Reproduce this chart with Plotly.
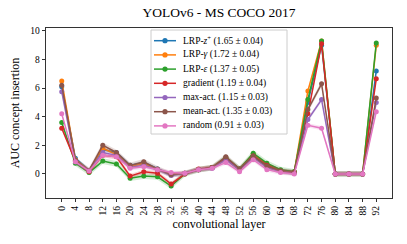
import plotly.graph_objects as go

layers = [0, 4, 8, 12, 16, 20, 24, 28, 32, 36, 40, 44, 48, 52, 56, 60, 64, 68, 72, 76, 80, 84, 88, 92]

lrp_zplus = [6.1, 1.1, 0.25, 1.7, 1.5, 0.6, 0.8, 0.35, -0.05, 0.05, 0.3, 0.45, 1.15, 0.35, 1.25, 0.6, 0.25, 0.15, 5.0, 9.0, 0, 0, 0, 7.2]
lrp_gamma = [6.5, 1.0, 0.25, 1.8, 1.35, 0.5, 0.75, 0.3, 0.0, 0.05, 0.3, 0.45, 1.15, 0.35, 1.4, 0.65, 0.25, 0.15, 5.8, 9.3, 0, 0, 0, 9.0]
lrp_eps = [3.6, 0.75, 0.1, 0.9, 0.7, -0.3, -0.15, -0.2, -0.85, 0.0, 0.3, 0.45, 1.1, 0.35, 1.45, 0.75, 0.3, 0.15, 5.2, 9.3, 0, 0, 0, 9.15]
gradient = [3.2, 0.9, 0.15, 1.3, 1.2, -0.15, 0.15, 0.05, -0.7, 0.0, 0.35, 0.45, 1.05, 0.3, 1.25, 0.6, 0.2, 0.1, 4.2, 9.1, 0, 0, 0, 6.65]
max_act = [5.75, 0.85, 0.25, 1.5, 1.3, 0.45, 0.6, 0.3, -0.1, 0.05, 0.3, 0.4, 1.0, 0.3, 1.15, 0.45, 0.15, 0.05, 3.8, 5.2, 0, 0, 0, 5.0]
mean_act = [6.2, 0.95, 0.25, 2.0, 1.5, 0.6, 0.85, 0.35, -0.05, 0.05, 0.3, 0.45, 1.2, 0.35, 1.25, 0.55, 0.2, 0.1, 4.5, 6.3, 0, 0, 0, 5.3]
random_ = [4.2, 0.85, 0.2, 1.3, 1.2, 0.4, 0.5, 0.3, 0.1, 0.05, 0.3, 0.4, 0.8, 0.15, 1.0, 0.3, 0.1, 0.0, 3.4, 3.2, 0, 0, 0, 4.35]

# half-width of the shaded spread band for each series (estimated)
spreads = [0.12, 0.12, 0.2, 0.15, 0.15, 0.2, 0.15]

labels = [
    "LRP-<i>z</i><sup>+</sup> (1.65 ± 0.04)",
    "LRP-<i>γ</i> (1.72 ± 0.04)",
    "LRP-<i>ε</i> (1.37 ± 0.05)",
    "gradient (1.19 ± 0.04)",
    "max-act. (1.15 ± 0.03)",
    "mean-act. (1.35 ± 0.03)",
    "random (0.91 ± 0.03)",
]
colors = ["#1f77b4", "#ff7f0e", "#2ca02c", "#d62728", "#9467bd", "#8c564b", "#e377c2"]
series = [lrp_zplus, lrp_gamma, lrp_eps, gradient, max_act, mean_act, random_]

def rgba(h, a):
    h = h.lstrip("#")
    return "rgba(%d,%d,%d,%s)" % (int(h[0:2], 16), int(h[2:4], 16), int(h[4:6], 16), a)

FONT = "Liberation Serif"
W, H = 407, 244
ML, MR, MT, MB = 46, 15, 28, 46
PW, PH = W - ML - MR, H - MT - MB

def px(xp):   # window pixel -> paper x
    return (xp - ML) / PW

def py(yp):   # window pixel -> paper y
    return (H - MB - yp) / PH

fig = go.Figure()
for vals, lab, col, s in zip(series, labels, colors, spreads):
    up = [v + s for v in vals]
    lo = [v - s for v in vals]
    fig.add_trace(go.Scatter(
        x=layers + layers[::-1], y=up + lo[::-1], fill="toself",
        fillcolor=rgba(col, 0.2), line=dict(width=0), mode="lines",
        showlegend=False, hoverinfo="skip"))
    fig.add_trace(go.Scatter(
        x=layers, y=vals, name=lab, mode="lines+markers", showlegend=False,
        line=dict(color=col, width=1.5), marker=dict(color=col, size=5)))

# legend box (matplotlib style, compact rows)
shapes = [dict(type="rect", xref="paper", yref="paper", layer="above",
               x0=px(151), x1=px(287), y0=py(134), y1=py(30),
               fillcolor="rgba(255,255,255,0.8)", line=dict(color="#cccccc", width=1))]
annotations = []
row0, step = 40.7, 14.2
for i, (lab, col) in enumerate(zip(labels, colors)):
    yy = py(row0 + i * step)
    shapes.append(dict(type="line", xref="paper", yref="paper", layer="above",
                       x0=px(154), x1=px(176), y0=yy, y1=yy,
                       line=dict(color=col, width=1.5)))
    shapes.append(dict(type="circle", xref="paper", yref="paper", layer="above",
                       xsizemode="pixel", ysizemode="pixel",
                       xanchor=px(165), yanchor=yy, x0=-2.6, x1=2.6, y0=-2.6, y1=2.6,
                       fillcolor=col, line=dict(color=col, width=0)))
    annotations.append(dict(text=lab, xref="paper", yref="paper", x=px(181), y=yy,
                            xanchor="left", yanchor="middle", showarrow=False,
                            font=dict(family=FONT, size=9.5, color="black")))

fig.update_layout(
    width=W, height=H,
    margin=dict(l=ML, r=MR, t=MT, b=MB),
    paper_bgcolor="white", plot_bgcolor="white",
    font=dict(family=FONT, size=9.5, color="black"),
    title=dict(text="YOLOv6 - MS COCO 2017", x=0.5, xref="paper", xanchor="center",
               y=1 - 12.5 / H, yanchor="middle", font=dict(size=13.5)),
    showlegend=False,
    shapes=shapes, annotations=annotations,
    xaxis=dict(range=[-4.6, 96.6], tickmode="array", tickvals=layers,
               ticktext=[str(v) for v in layers], tickangle=-90,
               ticks="outside", ticklen=3.5, tickwidth=0.8, tickcolor="black",
               showline=True, linecolor="black", linewidth=0.8, mirror=True,
               showgrid=False, zeroline=False,
               title=dict(text="convolutional layer", font=dict(size=12), standoff=4)),
    yaxis=dict(range=[-1.68, 10.2], tickmode="array", tickvals=[0, 2, 4, 6, 8, 10],
               ticks="outside", ticklen=3.5, tickwidth=0.8, tickcolor="black",
               showline=True, linecolor="black", linewidth=0.8, mirror=True,
               showgrid=False, zeroline=False,
               title=dict(text="AUC concept insertion", font=dict(size=12), standoff=7)),
)

# remove the browser's default 8px page margin so the figure fills the window
fig.write_html("out.html", config={"staticPlot": True, "displayModeBar": False},
               post_script="document.body.style.margin='0px';")
